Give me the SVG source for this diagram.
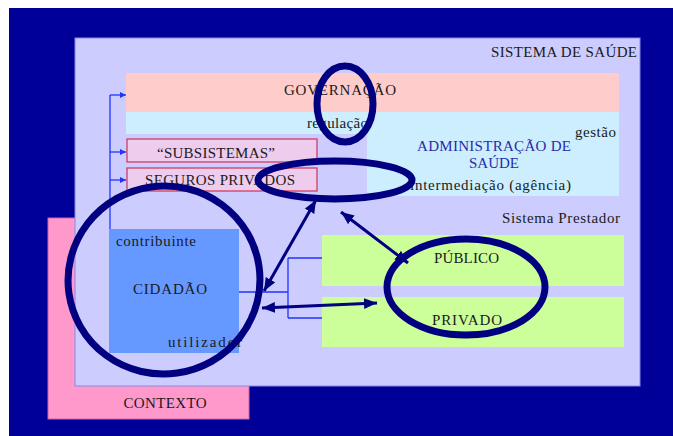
<svg xmlns="http://www.w3.org/2000/svg" width="673" height="436" viewBox="0 0 673 436">
<defs>
<marker id="thick" viewBox="0 0 12 10" refX="12" refY="5" markerWidth="13" markerHeight="11" markerUnits="userSpaceOnUse" orient="auto-start-reverse"><path d="M0,0 L12,5 L0,10 Z" fill="#000080"/></marker>
<marker id="thin" viewBox="0 0 6 6" refX="6" refY="3" markerWidth="6" markerHeight="6" markerUnits="userSpaceOnUse" orient="auto"><path d="M0,0 L6,3 L0,6 Z" fill="#2233ff"/></marker>
<style>
text{font-family:"Liberation Serif","Times New Roman",serif;font-size:15px;fill:#1a1a1a}
.c{text-anchor:middle}
.blue{fill:#2a2aaa}
.conn{stroke:#2233ff;stroke-width:1.3;fill:none}
.nav{stroke:#000080;stroke-width:3;fill:none}
.ring{stroke:#000080;stroke-width:7;fill:none}
</style>
</defs>
<rect x="0" y="0" width="673" height="436" fill="#ffffff"/>
<rect x="9" y="8" width="664" height="428" fill="#000099"/>
<g id="contexto">
<rect x="48" y="218" width="201" height="201" fill="#ff99cc" stroke="#cc66aa" stroke-width="1"/>
<text x="165" y="408" class="c" textLength="83">CONTEXTO</text>
</g>
<g id="sistema-saude">
<rect x="75" y="38" width="565" height="348" fill="#ccccff" stroke="#8888e8" stroke-width="1"/>
<text x="491" y="57" textLength="146">SISTEMA DE SAÚDE</text>
</g>
<g id="governacao">
<rect x="126" y="73" width="493" height="39" fill="#ffcccc"/>
<text x="284" y="95" textLength="112">GOVERNAÇÃO</text>
</g>
<g id="regulacao-admin">
<path d="M126,112 H619 V196 H367 V134 H126 Z" fill="#cceeff"/>
<text x="307" y="128" textLength="61">regulação</text>
<text x="417" y="151" class="blue" textLength="154">ADMINISTRAÇÃO DE</text>
<text x="469" y="168" class="blue" textLength="50">SAÚDE</text>
<text x="575" y="137" font-size="13" textLength="41">gestão</text>
<text x="410" y="190" textLength="161">intermediação (agência)</text>
</g>
<g id="subsistemas">
<rect x="127" y="139" width="190" height="23" fill="#eeccee" stroke="#cc3355" stroke-width="1.2"/>
<text x="157" y="158" textLength="118">“SUBSISTEMAS”</text>
</g>
<g id="seguros">
<rect x="127" y="168" width="190" height="23" fill="#eeccee" stroke="#cc3355" stroke-width="1.2"/>
<text x="145" y="185" textLength="150">SEGUROS PRIVADOS</text>
</g>
<g id="sistema-prestador">
<text x="502" y="223" textLength="118">Sistema Prestador</text>
</g>
<g id="publico">
<rect x="322" y="235" width="302" height="51" fill="#ccff99"/>
<text x="434" y="263" textLength="65">PÚBLICO</text>
</g>
<g id="privado">
<rect x="322" y="297" width="302" height="50" fill="#ccff99"/>
<text x="432" y="325" textLength="70">PRIVADO</text>
</g>
<g id="cidadao">
<rect x="109" y="229" width="130" height="124" fill="#6699ff"/>
<text x="116" y="246" textLength="80">contribuinte</text>
<text x="133" y="294" textLength="74">CIDADÃO</text>
<text x="168" y="347" textLength="74">utilizador</text>
</g>
<g id="connectors">
<path class="conn" d="M110,229 V95"/>
<path class="conn" d="M110,95 H126" marker-end="url(#thin)"/>
<path class="conn" d="M110,152 H126" marker-end="url(#thin)"/>
<path class="conn" d="M110,180 H126" marker-end="url(#thin)"/>
<path class="conn" d="M239,292 H288 M288,258 V318 M288,258 H322 M288,318 H322"/>
<line class="nav" x1="264" y1="291" x2="316" y2="200" marker-start="url(#thick)" marker-end="url(#thick)"/>
<line class="nav" x1="341" y1="212" x2="408" y2="263" marker-start="url(#thick)" marker-end="url(#thick)"/>
<line class="nav" x1="262" y1="308" x2="377" y2="303" marker-start="url(#thick)" marker-end="url(#thick)"/>
</g>
<g id="highlights">
<ellipse class="ring" cx="345" cy="104" rx="28" ry="38"/>
<ellipse class="ring" cx="335" cy="180" rx="77" ry="19"/>
<ellipse class="ring" cx="164" cy="280" rx="96" ry="94" transform="rotate(-8 164 280)"/>
<ellipse class="ring" cx="466" cy="287" rx="79" ry="48"/>
</g>
</svg>
